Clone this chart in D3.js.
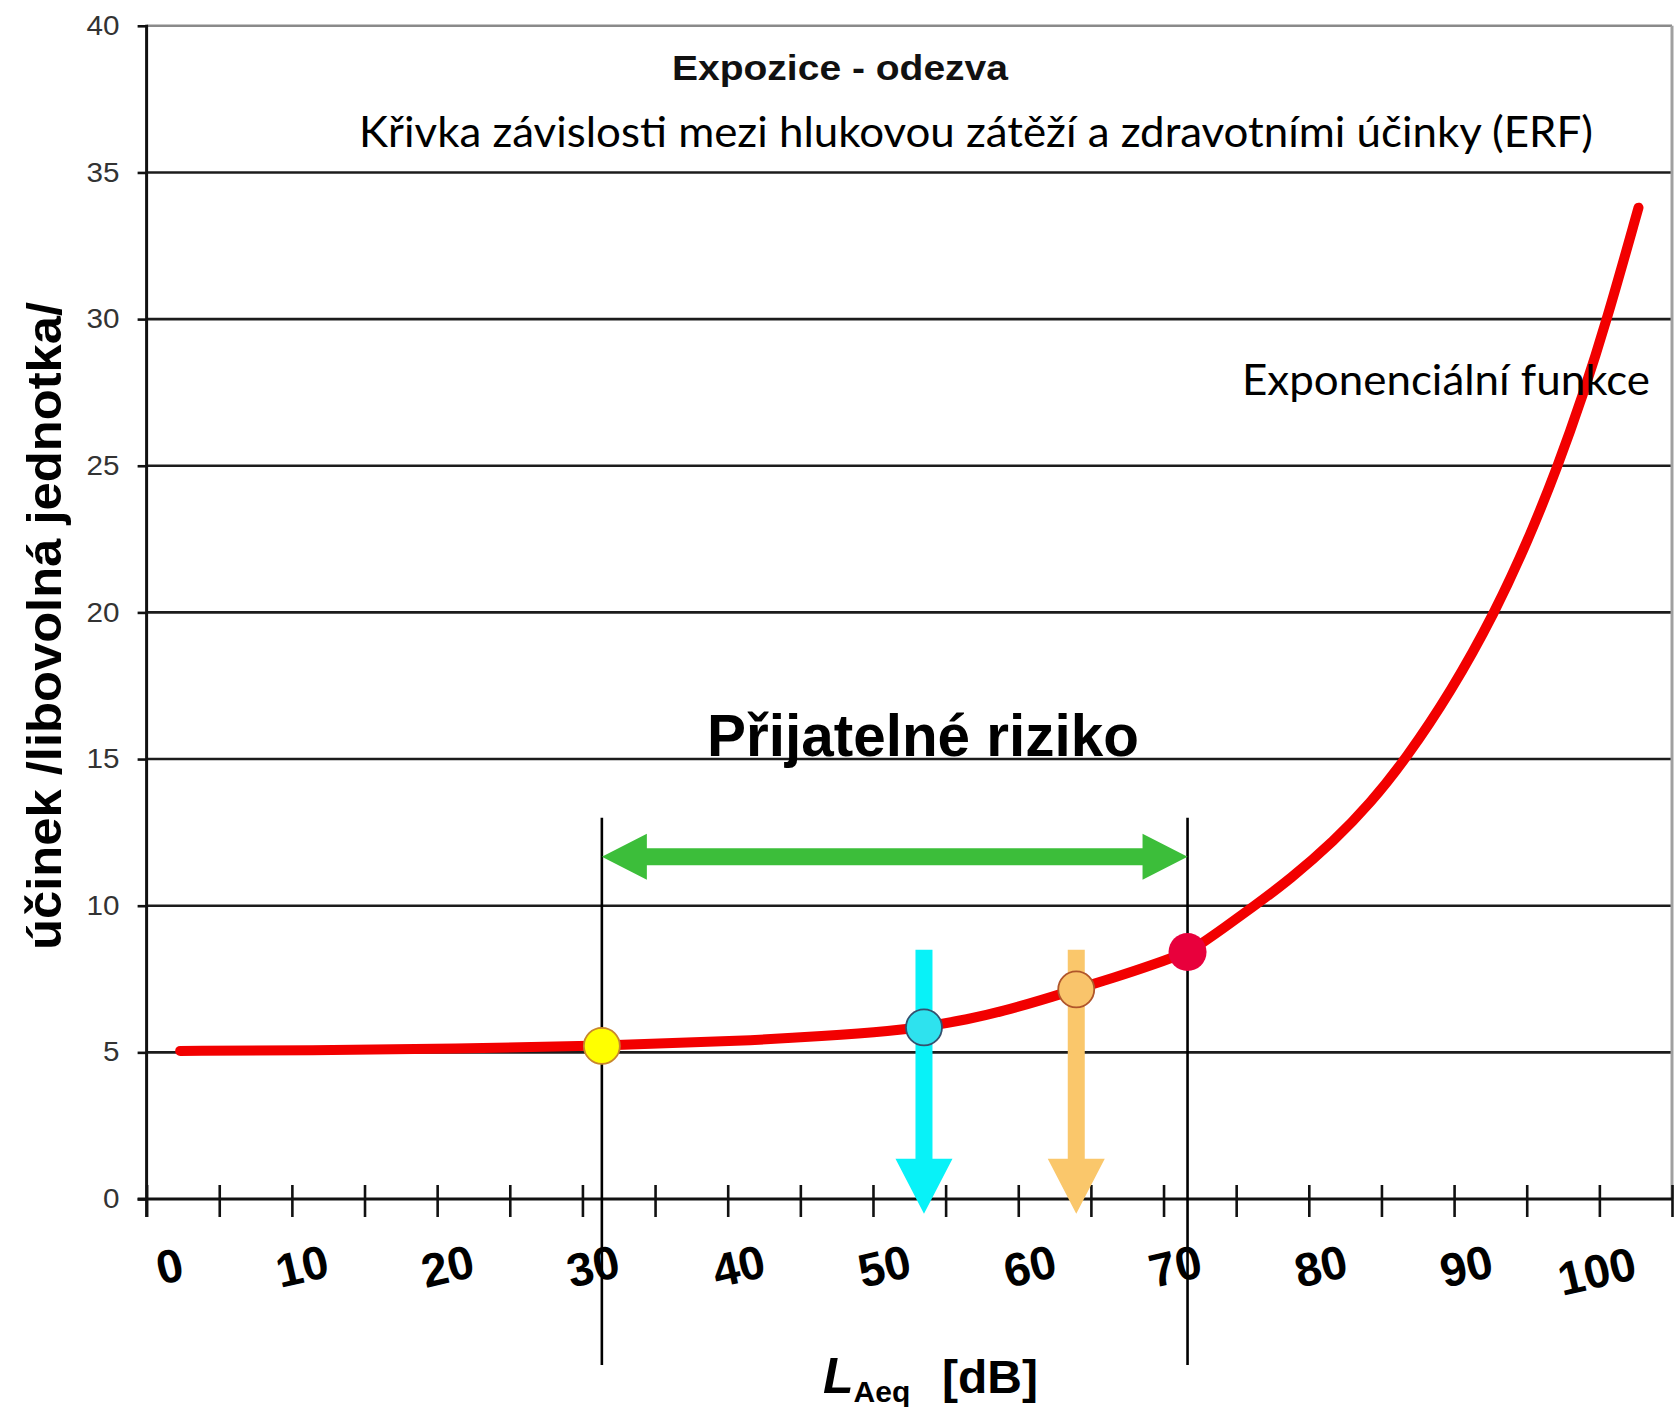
<!DOCTYPE html>
<html>
<head>
<meta charset="utf-8">
<script src="https://cdn.jsdelivr.net/npm/d3@7"></script>
<style>
  html, body { margin: 0; padding: 0; background: #fff; }
  svg { display: block; }
</style>
</head>
<body>
<svg id="chart" width="1676" height="1407"></svg>
<script>
// ---------------- DATA ----------------
const curveDb  = [1.2, 10, 20, 30, 40, 45, 50, 52, 55, 57.5, 60, 62.4, 65, 67.5, 70, 71, 72.5, 74.5, 77, 80, 82.5, 84.9, 88, 91, 93.3, 95.3, 97, 98.6, 100.8];
const curveVal = [5.05, 5.07, 5.12, 5.22, 5.4, 5.55, 5.74, 5.87, 6.12, 6.42, 6.78, 7.15, 7.55, 7.96, 8.42, 8.72, 9.25, 9.97, 10.9, 12.2, 13.5, 15, 17.3, 20, 22.5, 25, 27.4, 29.9, 33.8];

const markerDb  = [30, 52, 62.4, 70];
const markerVal = [5.22, 5.85, 7.15, 8.42];

const downArrowDb = [52, 62.4];
const downArrowTopVal = 8.5;
const downArrowTipVal = -0.5;

const rangeDb  = [30, 70];
const rangeVal = 11.67;
const rangeLineTopVal = 13;
const rangeLineBottomVal = -5.66;

const yTicks = [0, 5, 10, 15, 20, 25, 30, 35, 40];
const xLabels = [0, 10, 20, 30, 40, 50, 60, 70, 80, 90, 100];
const xMinorTickCount = 21;

const title = "Expozice - odezva";
const subtitle = "Křivka závislosti mezi hlukovou zátěží a zdravotními účinky (ERF)";
const curveLabel = "Exponenciální funkce";
const rangeLabel = "Přijatelné riziko";
const yTitle = "účinek  /libovolná jednotka/";

// ---------------- STYLE ----------------
const markerFill   = ["#FFFF00", "#2EE2EE", "#F9C46B", "#E8003C"];
const markerStroke = ["#C8862E", "#35506E", "#B0552A", "none"];
const arrowFill    = ["#08F2F8", "#FAC76B"];

// ---------------- SCALES ----------------
const svg = d3.select("#chart");
const x = d3.scaleLinear().domain([0, 100]).range([162.6, 1626.8]);
const y = d3.scaleLinear().domain([0, 40]).range([1199, 25.8]);
const plotLeft = 146.6, plotRight = 1672;
const tickScale = d3.scaleLinear().domain([0, xMinorTickCount]).range([plotLeft, plotRight]);
const labelScale = d3.scaleLinear().domain([0, 10, 90, 100])
  .range([x(0) + 7, x(10) - 7, x(90) - 14, x(100) - 30]);

svg.append("rect").attr("width", 1676).attr("height", 1407).attr("fill", "#fff");

// gridlines
svg.append("g").selectAll("line")
  .data(yTicks.filter(d => d > 0))
  .join("line")
  .attr("x1", plotLeft).attr("x2", plotRight)
  .attr("y1", d => y(d)).attr("y2", d => y(d))
  .attr("stroke", d => d === 40 ? "#8a8a8a" : "#1c1c1c")
  .attr("stroke-width", 2.6);

// right frame
svg.append("line")
  .attr("x1", plotRight).attr("x2", plotRight)
  .attr("y1", y(40)).attr("y2", y(0))
  .attr("stroke", "#a0a0a0").attr("stroke-width", 3);

// Y axis
const yAxis = d3.axisLeft(y).tickValues(yTicks).tickSize(9).tickPadding(18);
const gy = svg.append("g").attr("transform", `translate(${plotLeft},0)`).call(yAxis);
gy.select(".domain").remove();
gy.selectAll(".tick line").attr("stroke", "#111").attr("stroke-width", 2.6);
gy.selectAll(".tick text")
  .attr("font-family", "'Liberation Sans', Arial, sans-serif")
  .attr("font-size", 27).attr("fill", "#333")
  .attr("textLength", d => String(d).length * 16.5)
  .attr("lengthAdjust", "spacingAndGlyphs");
svg.append("line")
  .attr("x1", plotLeft).attr("x2", plotLeft)
  .attr("y1", y(40) - 1).attr("y2", y(0) + 18)
  .attr("stroke", "#111").attr("stroke-width", 3);

// X axis
const xAxis = d3.axisBottom(tickScale).ticks(xMinorTickCount).tickFormat("").tickSize(18);
const gx = svg.append("g").attr("transform", `translate(0,${y(0)})`).call(xAxis);
gx.select(".domain").remove();
gx.selectAll(".tick line").attr("y1", -14).attr("stroke", "#111").attr("stroke-width", 2.6);
svg.append("line")
  .attr("x1", plotLeft - 9).attr("x2", plotRight)
  .attr("y1", y(0)).attr("y2", y(0))
  .attr("stroke", "#111").attr("stroke-width", 3);

// X labels (rotated)
svg.append("g").selectAll("text")
  .data(xLabels)
  .join("text")
  .attr("transform", d => `translate(${labelScale(d)},${d === 100 ? 1271 : 1266}) rotate(-13)`)
  .attr("text-anchor", "middle")
  .attr("dominant-baseline", "central")
  .attr("font-family", "'Liberation Sans', Arial, sans-serif")
  .attr("font-weight", "bold")
  .attr("font-size", 47)
  .attr("fill", "#000")
  .text(d => d);

// range vertical lines
svg.append("g").selectAll("line")
  .data(rangeDb)
  .join("line")
  .attr("x1", d => x(d)).attr("x2", d => x(d))
  .attr("y1", y(rangeLineTopVal)).attr("y2", y(rangeLineBottomVal))
  .attr("stroke", "#000").attr("stroke-width", 2.6);

// red curve
const curvePts = curveDb.map((d, i) => [d, curveVal[i]]);
svg.append("path")
  .datum(curvePts)
  .attr("d", d3.line().x(d => x(d[0])).y(d => y(d[1])).curve(d3.curveBasis))
  .attr("fill", "none")
  .attr("stroke", "#F20000")
  .attr("stroke-width", 10)
  .attr("stroke-linecap", "round");

// green double arrow
{
  const x1 = x(rangeDb[0]), x2 = x(rangeDb[1]), yc = y(rangeVal);
  const sw = 17, hl = 45, hh = 46;
  const p = d3.path();
  p.moveTo(x1, yc);
  p.lineTo(x1 + hl, yc - hh / 2);
  p.lineTo(x1 + hl, yc - sw / 2);
  p.lineTo(x2 - hl, yc - sw / 2);
  p.lineTo(x2 - hl, yc - hh / 2);
  p.lineTo(x2, yc);
  p.lineTo(x2 - hl, yc + hh / 2);
  p.lineTo(x2 - hl, yc + sw / 2);
  p.lineTo(x1 + hl, yc + sw / 2);
  p.lineTo(x1 + hl, yc + hh / 2);
  p.closePath();
  svg.append("path").attr("d", p.toString()).attr("fill", "#3CBE3A");
}

// down arrows
svg.append("g").selectAll("path")
  .data(downArrowDb)
  .join("path")
  .attr("d", d => {
    const cx = x(d), y0 = y(downArrowTopVal), tip = y(downArrowTipVal);
    const sw = 17, hw = 57, hl = 55;
    const p = d3.path();
    p.moveTo(cx - sw / 2, y0);
    p.lineTo(cx + sw / 2, y0);
    p.lineTo(cx + sw / 2, tip - hl);
    p.lineTo(cx + hw / 2, tip - hl);
    p.lineTo(cx, tip);
    p.lineTo(cx - hw / 2, tip - hl);
    p.lineTo(cx - sw / 2, tip - hl);
    p.closePath();
    return p.toString();
  })
  .attr("fill", (d, i) => arrowFill[i]);

// markers
svg.append("g").selectAll("circle")
  .data(markerDb)
  .join("circle")
  .attr("cx", d => x(d))
  .attr("cy", (d, i) => y(markerVal[i]))
  .attr("r", (d, i) => i === 3 ? 19 : 18)
  .attr("fill", (d, i) => markerFill[i])
  .attr("stroke", (d, i) => markerStroke[i])
  .attr("stroke-width", 1.8);

// texts
svg.append("text")
  .attr("x", 672).attr("y", 80)
  .attr("font-family", "'Liberation Sans', Arial, sans-serif")
  .attr("font-weight", "bold").attr("font-size", 35)
  .attr("textLength", 336).attr("lengthAdjust", "spacingAndGlyphs")
  .attr("fill", "#111")
  .text(title);

svg.append("text")
  .attr("x", 359).attr("y", 147)
  .attr("font-family", "Lato, 'Open Sans', sans-serif")
  .attr("font-size", 42)
  .attr("textLength", 1234).attr("lengthAdjust", "spacingAndGlyphs")
  .attr("fill", "#000")
  .text(subtitle);

svg.append("text")
  .attr("x", 1242).attr("y", 395)
  .attr("font-family", "Lato, 'Open Sans', sans-serif")
  .attr("font-size", 42)
  .attr("textLength", 408).attr("lengthAdjust", "spacingAndGlyphs")
  .attr("fill", "#000")
  .text(curveLabel);

svg.append("text")
  .attr("x", 707).attr("y", 756)
  .attr("font-family", "'Liberation Sans', Arial, sans-serif")
  .attr("font-weight", "bold").attr("font-size", 59)
  .attr("textLength", 432).attr("lengthAdjust", "spacingAndGlyphs")
  .attr("fill", "#000")
  .text(rangeLabel);

svg.append("text")
  .attr("transform", "translate(61,626) rotate(-90)")
  .attr("text-anchor", "middle")
  .attr("font-family", "'Liberation Sans', Arial, sans-serif")
  .attr("font-weight", "bold").attr("font-size", 49)
  .attr("textLength", 648).attr("lengthAdjust", "spacingAndGlyphs")
  .attr("fill", "#000")
  .text(yTitle);

// x axis title: L_Aeq [dB]
const xt = svg.append("text")
  .attr("x", 823).attr("y", 1393)
  .attr("font-family", "'Liberation Sans', Arial, sans-serif")
  .attr("font-weight", "bold").attr("fill", "#000");
xt.append("tspan").attr("font-style", "italic").attr("font-size", 50).text("L");
xt.append("tspan").attr("font-size", 30).attr("dy", 9).text("Aeq");
xt.append("tspan").attr("font-size", 47).attr("dy", -9).attr("x", 942)
  .attr("textLength", 96).attr("lengthAdjust", "spacingAndGlyphs").text("[dB]");
</script>
</body>
</html>
